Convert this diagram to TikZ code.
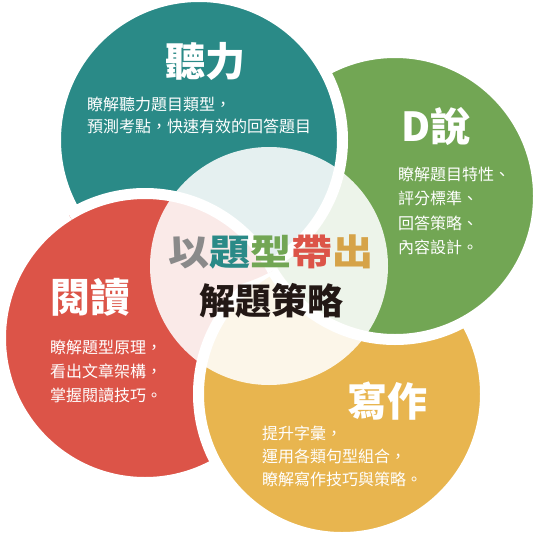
\documentclass[tikz,border=0pt]{standalone}
\usepackage{fontspec}
\usepackage{graphicx}
\setmainfont{Noto Sans CJK TC}
\definecolor{cteal}{HTML}{2A8A87}
\definecolor{cgreen}{HTML}{72A654}
\definecolor{cred}{HTML}{DC5448}
\definecolor{corange}{HTML}{E8B54F}
\definecolor{cgold}{HTML}{D6A348}
\definecolor{cgray}{HTML}{8A8A8A}
\definecolor{cblack}{HTML}{231815}
\tikzset{
  bubble/.style={draw=white, line width=11pt},
  title/.style={text=white, inner sep=0pt, font=\fontsize{40}{44}\selectfont\bfseries},
  body/.style={text=white, inner sep=0pt, align=left, anchor=north west, font=\fontsize{16}{23}\selectfont},
  center/.style={inner sep=0pt, font=\fontsize{36}{40}\selectfont\bfseries}
}
\begin{document}
\begin{tikzpicture}[x=1pt,y=-1pt]
\useasboundingbox (0,0) rectangle (537,538);
% big circles (cyclic overlap)
\fill[cred, bubble] (145,338) circle (144.5);
\fill[corange, bubble] (342,394) circle (143.5);
\fill[cgreen, bubble] (395,196) circle (143.5);
\fill[cteal, bubble] (199,140) circle (143.5);
\begin{scope}
  \clip (199,140) circle (150);
  \fill[cred, bubble] (145,338) circle (144.5);
\end{scope}
% pale centre
\fill[white, opacity=0.88] (269,266) circle (119);
% titles
\node[title] (tl) at (205,61) {聽力};
\node[title] (ts) at (436,126) {D說};
\node[title] (tr) at (90,297) {閱讀};
\node[title] (tw) at (387,401) {寫作};
% bodies
\node[body, font=\fontsize{16}{22}\selectfont] (bl) at (87,97) {瞭解聽力題目類型，\\預測考點，快速有效的回答題目};
\node[body, font=\fontsize{16}{24.3}\selectfont] (bs) at (398,167) {瞭解題目特性、\\評分標準、\\回答策略、\\內容設計。};
\node[body, font=\fontsize{16}{24}\selectfont] (br) at (50,340) {瞭解題型原理，\\看出文章架構，\\掌握閱讀技巧。};
\node[body, font=\fontsize{16}{23}\selectfont] (bw) at (262,426) {提升字彙，\\運用各類句型組合，\\瞭解寫作技巧與策略。};
% centre text
\node[center] (c1) at (271,252) {\scalebox{1.14}[1]{\textcolor{cgray}{以}\textcolor{cteal}{題}\textcolor{cgreen}{型}\textcolor{cred}{帶}\textcolor{cgold}{出}}};
\node[center, text=cblack] (c2) at (271,301) {解題策略};
\end{tikzpicture}
\end{document}
